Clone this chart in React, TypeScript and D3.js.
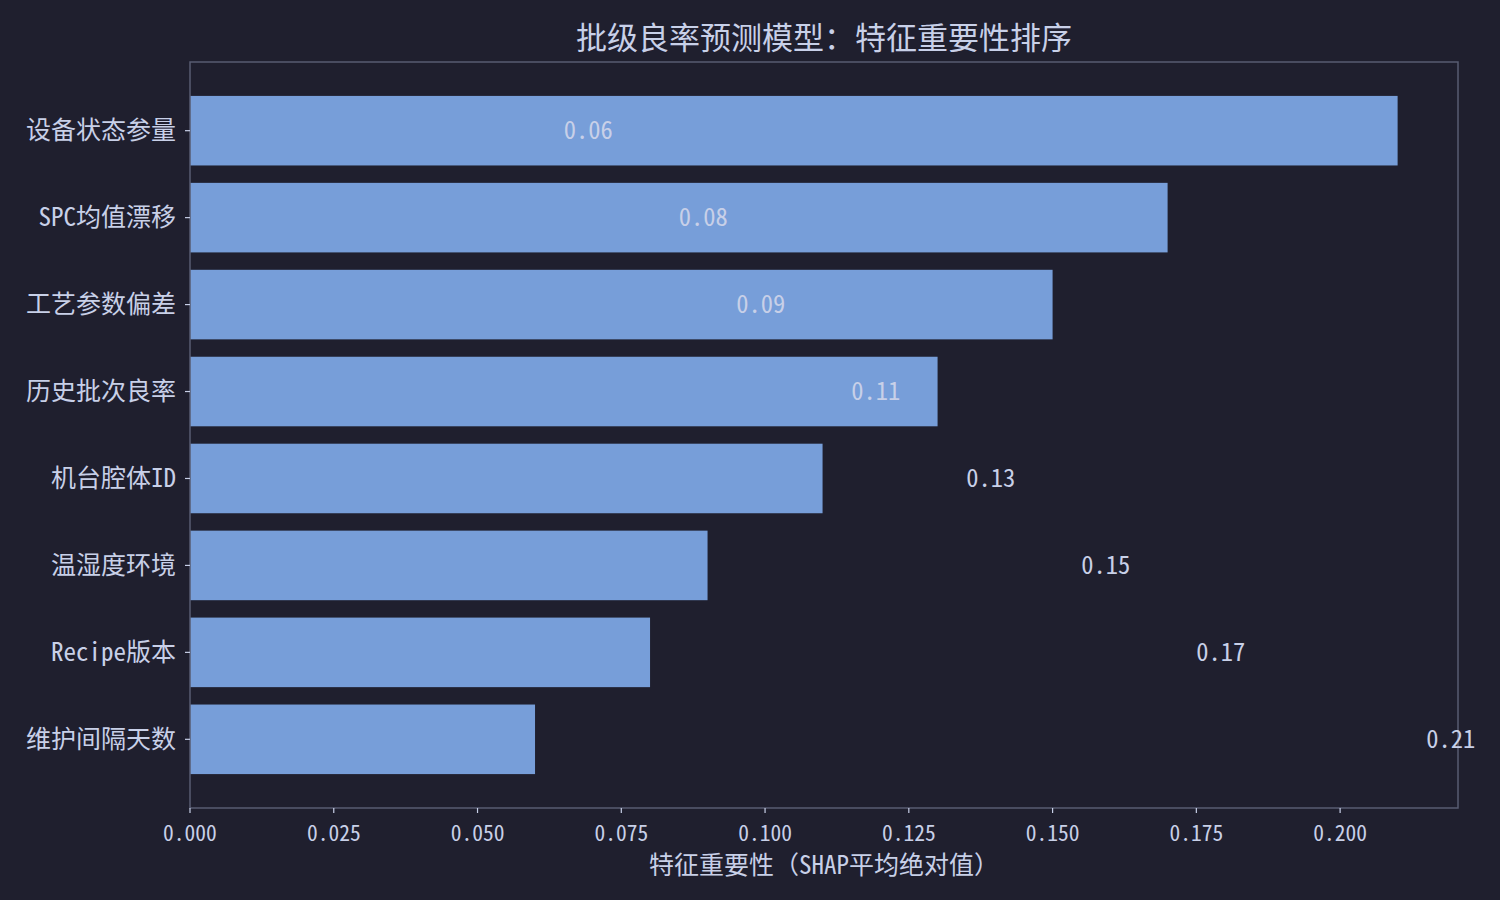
import { useEffect, useRef } from 'react';
import * as d3 from 'd3';

const features = ['设备状态参量', 'SPC均值漂移', '工艺参数偏差', '历史批次良率', '机台腔体ID', '温湿度环境', 'Recipe版本', '维护间隔天数'];
const importance = [0.21, 0.17, 0.15, 0.13, 0.11, 0.09, 0.08, 0.06];
// value labels as they appear in the source (order reversed relative to bars)
const labelValues = [0.06, 0.08, 0.09, 0.11, 0.13, 0.15, 0.17, 0.21];
const xTicks = [0, 0.025, 0.05, 0.075, 0.1, 0.125, 0.15, 0.175, 0.2];

const W = 1500;
const H = 900;
const FONT = '"Noto Sans Mono CJK SC", "Noto Sans CJK SC", sans-serif';
const BG = '#1f1f2e';
const BAR = '#779ed9';
const TEXT = '#c8d0e8';
const SPINE = '#585c72';

export default function App() {
  const svgRef = useRef<SVGSVGElement>(null);

  useEffect(() => {
    if (!svgRef.current) return;
    const svg = d3.select(svgRef.current);
    svg.selectAll('*').remove();

    const m = { left: 190, right: 1458, top: 62, bottom: 808 };
    const n = features.length;

    const x = d3.scaleLinear().domain([0, 0.2205]).range([m.left, m.right]);
    // matplotlib-like: bar height 0.8, 5% margin
    const span = n - 1 + 0.8;
    const y = d3.scaleLinear()
      .domain([-0.4 - span * 0.05, n - 1 + 0.4 + span * 0.05])
      .range([m.top, m.bottom]);

    svg.append('rect').attr('width', W).attr('height', H).attr('fill', BG);

    // bars
    svg.append('g')
      .selectAll('rect')
      .data(importance)
      .enter()
      .append('rect')
      .attr('x', x(0))
      .attr('y', (_, i) => y(i - 0.4))
      .attr('width', d => x(d) - x(0))
      .attr('height', y(0.8) - y(0))
      .attr('fill', BAR);

    // frame
    svg.append('rect')
      .attr('x', m.left)
      .attr('y', m.top)
      .attr('width', m.right - m.left)
      .attr('height', m.bottom - m.top)
      .attr('fill', 'none')
      .attr('stroke', SPINE)
      .attr('stroke-width', 1.5);

    // value labels
    svg.append('g')
      .selectAll('text')
      .data(labelValues)
      .enter()
      .append('text')
      .attr('x', d => x(d + 0.005))
      .attr('y', (_, i) => y(i))
      .attr('dy', '0.35em')
      .attr('fill', TEXT)
      .attr('font-family', FONT)
      .attr('font-size', 24.5)
      .text(d => d.toFixed(2));

    // y axis
    const yg = svg.append('g');
    features.forEach((f, i) => {
      yg.append('line')
        .attr('x1', m.left - 5).attr('x2', m.left)
        .attr('y1', y(i)).attr('y2', y(i))
        .attr('stroke', TEXT).attr('stroke-width', 1.2);
      yg.append('text')
        .attr('x', m.left - 14)
        .attr('y', y(i))
        .attr('dy', '0.35em')
        .attr('text-anchor', 'end')
        .attr('fill', TEXT)
        .attr('font-family', FONT)
        .attr('font-size', 25)
        .text(f);
    });

    // x axis
    const xg = svg.append('g');
    xTicks.forEach(t => {
      xg.append('line')
        .attr('x1', x(t)).attr('x2', x(t))
        .attr('y1', m.bottom).attr('y2', m.bottom + 5)
        .attr('stroke', TEXT).attr('stroke-width', 1.2);
      xg.append('text')
        .attr('x', x(t))
        .attr('y', m.bottom + 33)
        .attr('text-anchor', 'middle')
        .attr('fill', TEXT)
        .attr('font-family', FONT)
        .attr('font-size', 21.5)
        .text(t.toFixed(3));
    });

    svg.append('text')
      .attr('x', (m.left + m.right) / 2)
      .attr('y', 874)
      .attr('text-anchor', 'middle')
      .attr('fill', TEXT)
      .attr('font-family', FONT)
      .attr('font-size', 25)
      .text('特征重要性（SHAP平均绝对值）');

    svg.append('text')
      .attr('x', (m.left + m.right) / 2)
      .attr('y', 49)
      .attr('text-anchor', 'middle')
      .attr('fill', TEXT)
      .attr('font-family', FONT)
      .attr('font-size', 31)
      .text('批级良率预测模型：特征重要性排序');
  }, []);

  return (
    <div style={{ position: 'fixed', left: 0, top: 0, background: BG, width: W, height: H }}>
      <svg ref={svgRef} width={W} height={H} style={{ display: 'block' }} />
    </div>
  );
}
